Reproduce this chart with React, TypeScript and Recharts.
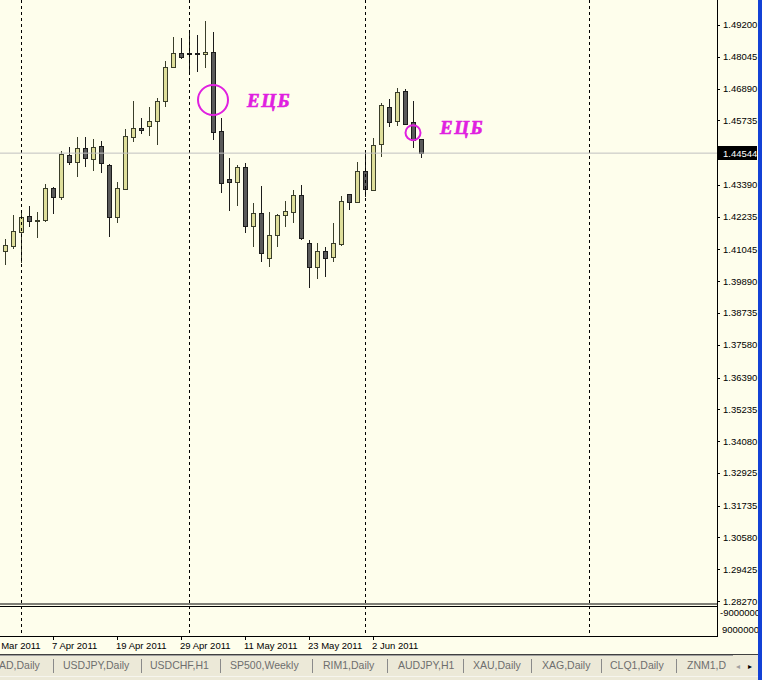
import React from "react";
import { ComposedChart, Bar, XAxis, YAxis, ReferenceLine, ReferenceDot } from "recharts";

// ---- data (EURUSD Daily, 30 Mar 2011 .. 10 Jun 2011) ----
const dates = [
  "2011.03.30", "2011.03.31", "2011.04.01", "2011.04.04", "2011.04.05", "2011.04.06", "2011.04.07", "2011.04.08",
  "2011.04.11", "2011.04.12", "2011.04.13", "2011.04.14", "2011.04.15", "2011.04.18", "2011.04.19", "2011.04.20",
  "2011.04.21", "2011.04.22", "2011.04.25", "2011.04.26", "2011.04.27", "2011.04.28", "2011.04.29", "2011.05.02",
  "2011.05.03", "2011.05.04", "2011.05.05", "2011.05.06", "2011.05.09", "2011.05.10", "2011.05.11", "2011.05.12",
  "2011.05.13", "2011.05.16", "2011.05.17", "2011.05.18", "2011.05.19", "2011.05.20", "2011.05.23", "2011.05.24",
  "2011.05.25", "2011.05.26", "2011.05.27", "2011.05.30", "2011.05.31", "2011.06.01", "2011.06.02", "2011.06.03",
  "2011.06.06", "2011.06.07", "2011.06.08", "2011.06.09", "2011.06.10",
];
const opens = [
  1.40987, 1.41180, 1.41696, 1.42259, 1.42103, 1.42125, 1.43288, 1.42961, 1.44476, 1.44232,
  1.44719, 1.44320, 1.44803, 1.44112, 1.42212, 1.43240, 1.45141, 1.45446, 1.45540, 1.45722,
  1.46438, 1.47663, 1.48171, 1.48175, 1.48193, 1.48135, 1.48229, 1.45348, 1.43604, 1.43484,
  1.44029, 1.41907, 1.42379, 1.40722, 1.41558, 1.42285, 1.42416, 1.43022, 1.41267, 1.40417,
  1.40987, 1.40759, 1.41231, 1.43048, 1.42779, 1.43894, 1.43204, 1.44865, 1.46209, 1.45722,
  1.46801, 1.45686, 1.45046,
];
const highs = [
  1.41424, 1.42296, 1.42405, 1.42623, 1.42394, 1.43411, 1.43324, 1.44632, 1.44756, 1.45119,
  1.45141, 1.45057, 1.44985, 1.44149, 1.43495, 1.45410, 1.46438, 1.45820, 1.46209, 1.46558,
  1.47902, 1.48774, 1.48716, 1.48956, 1.48836, 1.49345, 1.48956, 1.45809, 1.44356, 1.44112,
  1.44174, 1.42743, 1.43349, 1.42416, 1.42332, 1.42804, 1.43204, 1.43386, 1.41387, 1.41267,
  1.41144, 1.41994, 1.42986, 1.43059, 1.44211, 1.44538, 1.45083, 1.46354, 1.46511, 1.46899,
  1.46863, 1.46449, 1.45075,
];
const lows = [
  1.40479, 1.41060, 1.40551, 1.41849, 1.41449, 1.42052, 1.42332, 1.42852, 1.44112, 1.43687,
  1.44051, 1.43905, 1.43840, 1.41507, 1.41987, 1.43222, 1.44959, 1.45257, 1.45177, 1.44839,
  1.46231, 1.47626, 1.47953, 1.47503, 1.47474, 1.47648, 1.45039, 1.43084, 1.42452, 1.42634,
  1.41652, 1.41144, 1.40599, 1.40417, 1.41144, 1.41849, 1.41994, 1.41387, 1.39632, 1.39959,
  1.40054, 1.40599, 1.41180, 1.42477, 1.42768, 1.42961, 1.43186, 1.44414, 1.45504, 1.45540,
  1.45566, 1.44719, 1.44356,
];
const closes = [
  1.41205, 1.41714, 1.42212, 1.42088, 1.42125, 1.43266, 1.42961, 1.44501, 1.44232, 1.44719,
  1.44356, 1.44777, 1.44174, 1.42212, 1.43266, 1.45155, 1.45446, 1.45402, 1.45722, 1.46438,
  1.47684, 1.48171, 1.48048, 1.48160, 1.48135, 1.48219, 1.45322, 1.43447, 1.43506, 1.44051,
  1.41907, 1.42357, 1.40926, 1.41558, 1.42296, 1.42441, 1.43022, 1.41471, 1.40417, 1.40987,
  1.40751, 1.41267, 1.42804, 1.42779, 1.43894, 1.43229, 1.44839, 1.46293, 1.45686, 1.46776,
  1.45591, 1.45021, 1.44544,
];

const priceTicks = [
  1.492, 1.48045, 1.4689, 1.45735, 1.4339, 1.42235, 1.41045, 1.3989, 1.38735,
  1.3758, 1.3639, 1.35235, 1.3408, 1.32925, 1.31735, 1.3058, 1.29425, 1.2827,
];
const dateTickIdx = [-2, 6, 14, 22, 30, 38, 46];
const dateTickLabels = ["28 Mar 2011", "7 Apr 2011", "19 Apr 2011", "29 Apr 2011", "11 May 2011", "23 May 2011", "2 Jun 2011"];
const separatorIdx = [2, 23, 45, 73];
const lastPrice = 1.44544;

const ecbIdx = [26, 51];
const ecbPrice = [1.46474, 1.45286];
const ecbTextIdx = [30.25, 54.375];
const ecbTextPrice = [1.46474, 1.45457];
const ecbText = "ЕЦБ";

const tabNames = ["AD,Daily", "USDJPY,Daily", "USDCHF,H1", "SP500,Weekly", "RIM1,Daily", "AUDJPY,H1", "XAU,Daily", "XAG,Daily", "CLQ1,Daily", "ZNM1,D"];
const subLabels = ["-9000000", "9000000"];

// ---- layout / style ----
const W = 762;
const H = 680;
const PLOT_R = 717;
const BG = "#FEFEEC";
const BULL_FILL = "#DEDE9A";
const BULL_LINE = "#3A3E2A";
const BEAR_FILL = "#5A5A5A";
const BEAR_LINE = "#1C1C1C";
const MAGENTA = "#E020E0";
const FONT = "'Liberation Sans', Arial, sans-serif";
const X_DOMAIN: [number, number] = [-0.625, 89];
const Y_DOMAIN: [number, number] = [1.28161, 1.50108];
const ECB_R = [15, 7.5];
const tabX = [-1, 63, 150, 230, 323, 398, 473, 542, 610, 687];
const tabSepX = [53, 141, 220, 312, 387, 463, 531, 601, 676];

const data = dates.map((d, i) => ({
  idx: i,
  date: d,
  open: opens[i],
  high: highs[i],
  low: lows[i],
  close: closes[i],
  range: [lows[i], highs[i]],
}));

const Candle = (props: any) => {
  const { x, y, width, height, payload } = props;
  if (payload == null) return null;
  const { open, close, high, low } = payload;
  const cx = Math.round(x + width / 2) + 0.5;
  const k = height / (high - low);
  const yO = y + (high - open) * k;
  const yC = y + (high - close) * k;
  const bull = close >= open;
  const top = Math.round(Math.min(yO, yC));
  const bot = Math.max(Math.round(Math.max(yO, yC)), top + 1);
  const line = bull ? BULL_LINE : BEAR_LINE;
  return (
    <g>
      <line x1={cx} x2={cx} y1={Math.round(y)} y2={Math.round(y + height)} stroke={line} strokeWidth={1} />
      <rect x={cx - 2} y={top + 0.5} width={4} height={bot - top} fill={bull ? BULL_FILL : BEAR_FILL} stroke={line} strokeWidth={1} />
    </g>
  );
};

const XTick = (props: any) => {
  const { x, y, payload } = props;
  const i = dateTickIdx.indexOf(payload.value);
  const px = Math.round(x) + 0.5;
  return (
    <g>
      <line x1={px} x2={px} y1={y + 32} y2={y + 36} stroke="#000" />
      <text x={x - 1} y={y + 45} fontSize={9.5} fontFamily={FONT} fill="#000">
        {i >= 0 ? dateTickLabels[i] : ""}
      </text>
    </g>
  );
};

const YTick = (props: any) => {
  const { x, y, payload } = props;
  const py = Math.round(y) + 0.5;
  return (
    <g>
      <line x1={x} x2={x + 3} y1={py} y2={py} stroke="#000" />
      <text x={x + 6} y={y + 3.5} fontSize={9.5} fontFamily={FONT} fill="#000">
        {payload.value.toFixed(5)}
      </text>
    </g>
  );
};

const PriceTag = (props: any) => {
  const vb = props.viewBox || {};
  const x = (vb.x || 0) + (vb.width || 0);
  const y = vb.y || 0;
  return (
    <g>
      <rect x={x + 1} y={Math.round(y) - 7} width={39} height={14} fill="#000" />
      <text x={x + 6} y={y + 3.5} fontSize={9.5} fontFamily={FONT} fill="#fff">
        {lastPrice.toFixed(5)}
      </text>
    </g>
  );
};

const Separator = (p: any) => {
  const px = Math.round(p.x1) + 0.5;
  return <line x1={px} x2={px} y1={0} y2={636} stroke="#000" strokeWidth={1} strokeDasharray="3 3" />;
};

const EcbLabel = (p: any) => (
  <text
    x={p.cx}
    y={p.cy + 6.5}
    fontSize={19}
    letterSpacing={1.5}
    fontFamily="'Liberation Serif', serif"
    fontWeight="bold"
    fontStyle="italic"
    fill={MAGENTA}
    stroke={MAGENTA}
    strokeWidth={0.6}
  >
    {ecbText}
  </text>
);

export default function App() {
  return (
    <div style={{ position: "absolute", left: 0, top: 0, width: W, height: H, background: BG, overflow: "hidden" }}>
      <ComposedChart
        width={W}
        height={H}
        data={data}
        margin={{ top: 0, right: 0, left: 0, bottom: 46 }}
      >
        <XAxis
          dataKey="idx"
          type="number"
          domain={X_DOMAIN}
          allowDataOverflow
          ticks={dateTickIdx}
          interval={0}
          height={30}
          tickSize={0}
          tickMargin={0}
          tickLine={false}
          axisLine={{ stroke: "#000" }}
          tick={<XTick />}
        />
        <YAxis
          orientation="right"
          type="number"
          domain={Y_DOMAIN}
          allowDataOverflow
          ticks={priceTicks}
          interval={0}
          width={45}
          tickSize={0}
          tickMargin={0}
          tickLine={false}
          axisLine={false}
          tick={<YTick />}
        />
        {separatorIdx.map((s) => (
          <ReferenceLine key={"sep" + s} x={s} shape={Separator} />
        ))}
        <ReferenceLine y={lastPrice} stroke="#C0C0C0" strokeWidth={1} label={<PriceTag />} />
        <Bar dataKey="range" barSize={5} isAnimationActive={false} shape={Candle} />
        {ecbIdx.map((e, i) => (
          <ReferenceDot
            key={"c" + i}
            x={e}
            y={ecbPrice[i]}
            r={ECB_R[i]}
            fill="none"
            stroke={MAGENTA}
            strokeWidth={2}
          />
        ))}
        {ecbTextIdx.map((e, i) => (
          <ReferenceDot key={"t" + i} x={e} y={ecbTextPrice[i]} r={1} shape={EcbLabel} />
        ))}
      </ComposedChart>
      <svg width={W} height={H} style={{ position: "absolute", left: 0, top: 0, pointerEvents: "none" }}>
        <line x1={PLOT_R + 0.5} x2={PLOT_R + 0.5} y1={0} y2={637} stroke="#000" />
        <line x1={0} x2={PLOT_R} y1={606.5} y2={606.5} stroke="#000" />
        <line x1={0} x2={PLOT_R + 1} y1={636.5} y2={636.5} stroke="#000" />
        <text x={720} y={616} fontSize={9.5} fontFamily={FONT} fill="#000">{subLabels[0]}</text>
        <text x={722} y={633} fontSize={9.5} fontFamily={FONT} fill="#000">{subLabels[1]}</text>
        <rect x={0} y={654} width={W} height={26} fill="#ECE9D8" />
        <line x1={0} x2={W} y1={654.5} y2={654.5} stroke="#404040" />
        <line x1={0} x2={W} y1={655.5} y2={655.5} stroke="#A0A0A0" />
        <line x1={0} x2={W} y1={676.5} y2={676.5} stroke="#F6F5EE" />
        {tabNames.map((t, i) => (
          <text key={t} x={tabX[i]} y={669} fontSize={10.5} fontFamily={FONT} fill="#6E6E6E">{t}</text>
        ))}
        {tabSepX.map((s) => (
          <line key={"ts" + s} x1={s + 0.5} x2={s + 0.5} y1={659} y2={673} stroke="#8A8A8A" />
        ))}
        <rect x={733} y={655} width={25} height={21} fill="#ECE9D8" />
        <text x={736} y={669} fontSize={8} fontFamily={FONT} fill="#A0A0A0">◂</text>
        <text x={748} y={669} fontSize={8} fontFamily={FONT} fill="#000">▸</text>
        <rect x={758} y={0} width={4} height={H} fill="#1341D6" />
      </svg>
    </div>
  );
}
